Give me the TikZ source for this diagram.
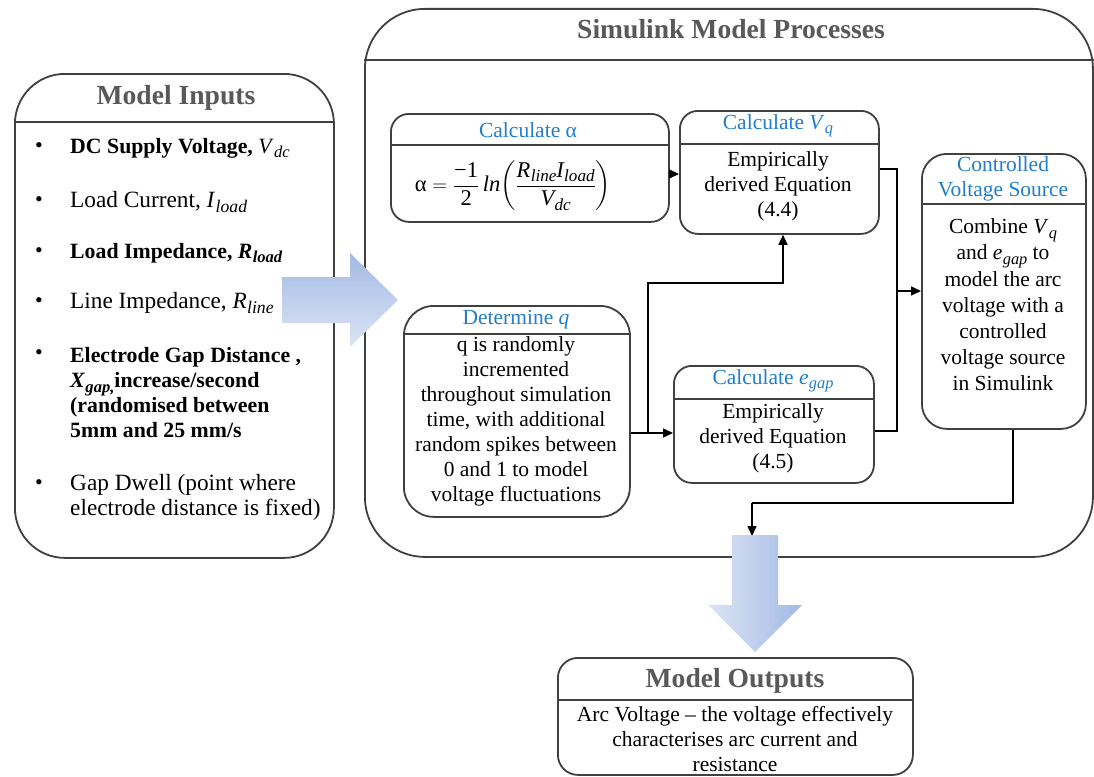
\documentclass[tikz,border=0pt]{standalone}
\usepackage{amsmath}
\usepackage{graphicx}
\usepackage{fontspec}
\setmainfont{Liberation Serif}
\usetikzlibrary{arrows.meta}

\definecolor{boxline}{HTML}{404040}
\definecolor{titlegray}{HTML}{595959}
\definecolor{headblue}{RGB}{35,125,200}
\definecolor{arrowdark}{HTML}{A3BAE5}
\definecolor{arrowlight}{HTML}{DCE4F4}

% italic variable with an italic subscript
\newcommand{\vsub}[2]{\textit{#1}\kern0.3pt\raisebox{-0.45ex}{\scalebox{0.76}{\textit{#2}}}}

\tikzset{
  panel/.style={draw=boxline, line width=1.8pt, rectangle, inner sep=0pt,
    anchor=north west, fill=white},
  divider/.style={draw=boxline, line width=1.8pt},
  bigtitle/.style={font=\fontsize{27.6}{30}\selectfont\bfseries, text=titlegray, inner sep=0pt},
  bluetitle/.style={font=\fontsize{21.5}{25}\selectfont, text=headblue, inner sep=0pt, align=center},
  bodytext/.style={font=\fontsize{21.5}{25}\selectfont, inner sep=0pt, align=center},
  itemtext/.style={font=\fontsize{23.3}{25}\selectfont, inner sep=0pt, align=left, anchor=west},
  itembold/.style={itemtext, font=\fontsize{21.8}{25}\selectfont\bfseries},
  bulletmark/.style={font=\fontsize{22}{25}\selectfont, inner sep=0pt},
  conn/.style={draw=black, line width=1.5pt, -{Triangle[length=10pt,width=9pt]}},
  wire/.style={draw=black, line width=1.5pt},
}

\begin{document}
\begin{tikzpicture}[x=1pt,y=-1pt]
\useasboundingbox (0,0) rectangle (1094,776);

% ---------- Model inputs ----------
\node[panel, rounded corners=50pt, minimum width=319pt, minimum height=484pt] (inputs) at (14,73) {};
\draw[divider] (inputs.west |- 0,122) -- (inputs.east |- 0,122);
\node[bigtitle] (inputsT) at (176,98) {Model Inputs};

\node[bulletmark] (b1) at (39,148) {•};
\node[itembold] (i1) at (70,148) {DC Supply Voltage, \mdseries\vsub{V}{dc}};
\node[bulletmark] (b2) at (39,202) {•};
\node[itemtext] (i2) at (70,202) {Load Current, \vsub{I}{load}};
\node[bulletmark] (b3) at (39,253) {•};
\node[itembold] (i3) at (70,253) {Load Impedance, \vsub{R}{load}};
\node[bulletmark] (b4) at (39,303) {•};
\node[itemtext] (i4) at (70,303) {Line Impedance, \vsub{R}{line}};
\node[bulletmark] (b5) at (39,355) {•};
\node[itembold] (i5) at (70,393) {Electrode Gap Distance ,\\
  \vsub{X}{gap,}increase/second\\
  (randomised between\\
  5mm and 25 mm/s};
\node[bulletmark] (b6) at (39,485) {•};
\node[itemtext] (i6) at (70,497) {Gap Dwell (point where\\electrode distance is fixed)};

% ---------- Simulink processes frame ----------
\node[panel, rounded corners=60pt, minimum width=728pt, minimum height=548pt] (sim) at (364,8) {};
\draw[divider] (sim.west |- 0,60) -- (sim.east |- 0,60);
\node[bigtitle] (simT) at (731,29) {Simulink Model Processes};

% Calculate alpha
\node[panel, rounded corners=18pt, minimum width=278pt, minimum height=108pt] (alpha) at (390,113) {};
\draw[divider] (alpha.west |- 0,145) -- (alpha.east |- 0,145);
\node[bluetitle] (alphaT) at (528,130) {Calculate α};
\node[bodytext, font=\fontsize{22.5}{25}\selectfont] (alphaB) at (513,186)
  {α $=\dfrac{\textup{−1}}{\textup{2}}\,\textit{ln}\!\left(\dfrac{\vsub{R}{line}\vsub{I}{load}}{\vsub{V}{dc}}\right)$};

% Calculate V_q
\node[panel, rounded corners=18pt, minimum width=199pt, minimum height=123pt] (vq) at (679,110) {};
\draw[divider] (vq.west |- 0,144) -- (vq.east |- 0,144);
\node[bluetitle] (vqT) at (778,126) {Calculate \vsub{V}{q}};
\node[bodytext] (vqB) at (778,186) {Empirically\\derived Equation\\(4.4)};

% Controlled voltage source
\node[panel, rounded corners=25pt, minimum width=164pt, minimum height=275pt] (cvs) at (921,153) {};
\draw[divider] (cvs.west |- 0,204) -- (cvs.east |- 0,204);
\node[bluetitle] (cvsT) at (1003,179) {Controlled\\Voltage Source};
\node[bodytext, font=\fontsize{21.5}{26.2}\selectfont] (cvsB) at (1003,305)
  {Combine \vsub{V}{q}\\and \vsub{e}{gap} to\\model the arc\\voltage with a\\controlled\\voltage source\\in Simulink};

% Determine q
\node[panel, rounded corners=30pt, minimum width=226pt, minimum height=211pt] (qbox) at (403,305) {};
\draw[divider] (qbox.west |- 0,334) -- (qbox.east |- 0,334);
\node[bluetitle] (qT) at (516,320) {Determine \textit{q}};
\node[bodytext] (qB) at (516,421) {q is randomly\\incremented\\throughout simulation\\time, with additional\\random spikes between\\0 and 1 to model\\voltage fluctuations};

% Calculate e_gap
\node[panel, rounded corners=18pt, minimum width=200pt, minimum height=117pt] (egap) at (673,365) {};
\draw[divider] (egap.west |- 0,399) -- (egap.east |- 0,399);
\node[bluetitle] (egapT) at (773,381) {Calculate \vsub{e}{gap}};
\node[bodytext] (egapB) at (773,438) {Empirically\\derived Equation\\(4.5)};

% ---------- Connectors ----------
\coordinate (split) at (648,433);
\coordinate (join) at (897,291);
\coordinate (drop) at (752,503);
\draw[conn] (alpha.east |- 0,174) -- (vq.west |- 0,174);
\draw[conn] (qbox.east |- split) -- (egap.west |- split);
\draw[conn] (split) |- (783,283) -- (vq.south -| 783,0);
\draw[wire] (vq.east |- 0,169) -| (join);
\draw[wire] (egap.east |- 0,431) -| (join);
\draw[conn] (join) -- (cvs.west |- join);
\draw[wire] (cvs.south -| 1013,0) |- (drop);
\draw[conn] (drop) -- (752,536);

% ---------- Model outputs ----------
\node[panel, rounded corners=20pt, minimum width=355pt, minimum height=117pt] (outputs) at (557,657) {};
\draw[divider] (outputs.west |- 0,700) -- (outputs.east |- 0,700);
\node[bigtitle] (outputsT) at (735,681) {Model Outputs};
\node[bodytext] (outputsB) at (735,739) {Arc Voltage -- the voltage effectively\\characterises arc current and\\resistance};

% ---------- Flow arrows ----------
\path[top color=arrowdark, bottom color=arrowlight]
  (282,277) -- (350,277) -- (350,253) -- (398,300) -- (350,347) -- (350,323) -- (282,323) -- cycle;
\path[left color=arrowlight, right color=arrowdark]
  (732,535) -- (778,535) -- (778,605) -- (802,605) -- (755,652) -- (708,605) -- (732,605) -- cycle;
\end{tikzpicture}
\end{document}
